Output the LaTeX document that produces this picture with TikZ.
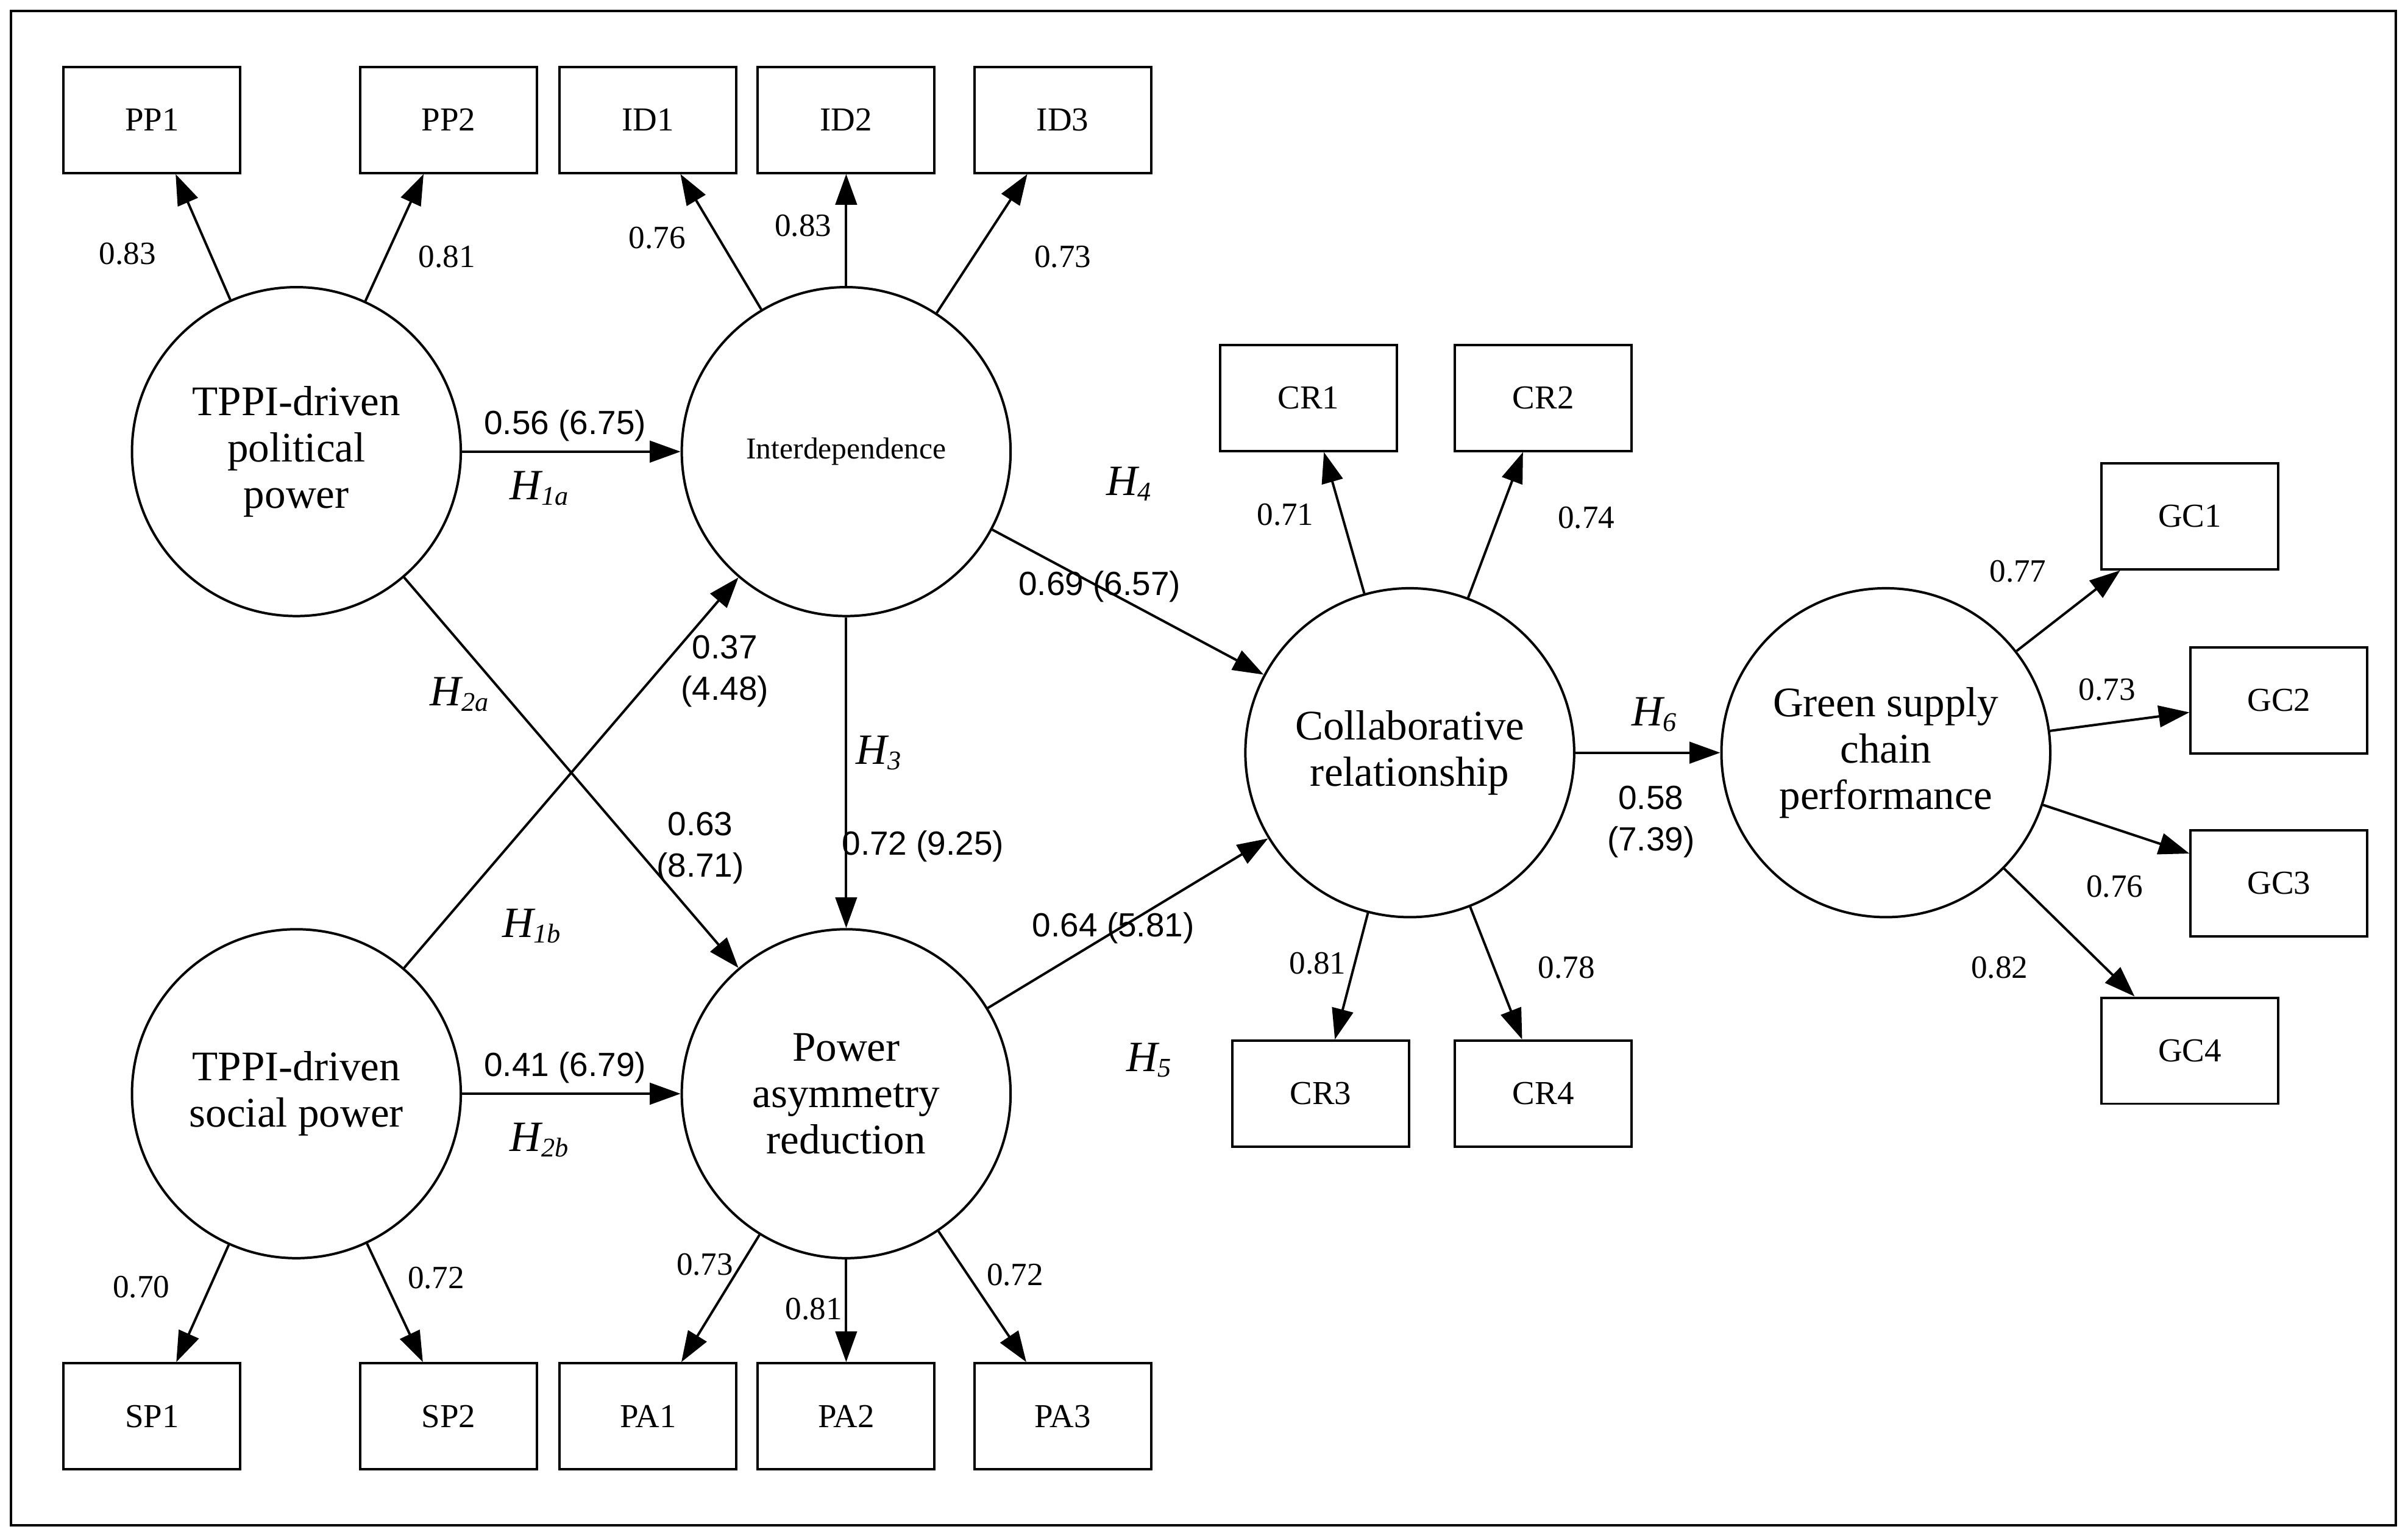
\documentclass[tikz,border=0pt]{standalone}
\usepackage{fontspec}
\setmainfont{Liberation Serif}
\newfontfamily\pathfont{Liberation Sans}
\usetikzlibrary{arrows.meta}
\tikzset{
  lat/.style={draw, circle, minimum size=2.14cm, inner sep=0pt, align=center, font=\fontsize{7.8}{8.6}\selectfont},
  ind/.style={draw, rectangle, minimum width=1.15cm, minimum height=0.69cm, inner sep=0pt, font=\fontsize{6.2}{7}\selectfont},
  arr/.style={-{Triangle[length=2mm, width=1.4mm]}, line width=0.45pt},
  num/.style={font=\fontsize{6}{6.8}\selectfont, align=center},
  coef/.style={font=\pathfont\fontsize{6.2}{7.6}\selectfont, align=center},
  hyp/.style={font=\fontsize{8}{9}\selectfont\itshape}
}
\newcommand{\hsub}[2]{#1\textsubscript{\fontsize{5}{5}\selectfont#2}}
\begin{document}
\begin{tikzpicture}[x=0.01cm, y=-0.01cm, line width=0.45pt]
  \useasboundingbox (0,0) rectangle (1568,997);
  \draw (7,7) rectangle (1560,993);
  % latent constructs
  \node[lat] (pol) at (193,294) {TPPI-driven\\political\\power};
  \node[lat, font=\fontsize{5.6}{6.4}\selectfont] (inter) at (551,294) {Interdependence};
  \node[lat] (soc) at (193,712) {TPPI-driven\\social power};
  \node[lat] (asym) at (551,712) {Power\\asymmetry\\reduction};
  \node[lat] (collab) at (918,490) {Collaborative\\relationship};
  \node[lat] (green) at (1228,490) {Green supply\\chain\\performance};
  % indicators
  \node[ind] (pp1) at (99,78) {PP1};
  \node[ind] (pp2) at (292,78) {PP2};
  \node[ind] (id1) at (422,78) {ID1};
  \node[ind] (id2) at (551,78) {ID2};
  \node[ind] (id3) at (692,78) {ID3};
  \node[ind] (cr1) at (852,259) {CR1};
  \node[ind] (cr2) at (1005,259) {CR2};
  \node[ind] (cr3) at (860,712) {CR3};
  \node[ind] (cr4) at (1005,712) {CR4};
  \node[ind] (gc1) at (1426,336) {GC1};
  \node[ind] (gc2) at (1484,456) {GC2};
  \node[ind] (gc3) at (1484,575) {GC3};
  \node[ind] (gc4) at (1426,684) {GC4};
  \node[ind] (sp1) at (99,922) {SP1};
  \node[ind] (sp2) at (292,922) {SP2};
  \node[ind] (pa1) at (422,922) {PA1};
  \node[ind] (pa2) at (551,922) {PA2};
  \node[ind] (pa3) at (692,922) {PA3};
  % loadings
  \draw[arr] (pol) -- (pp1);
  \draw[arr] (pol) -- (pp2);
  \draw[arr] (inter) -- (id1);
  \draw[arr] (inter) -- (id2);
  \draw[arr] (inter) -- (id3);
  \draw[arr] (collab) -- (cr1);
  \draw[arr] (collab) -- (cr2);
  \draw[arr] (collab) -- (cr3);
  \draw[arr] (collab) -- (cr4);
  \draw[arr] (green) -- (gc1);
  \draw[arr] (green) -- (gc2);
  \draw[arr] (green) -- (gc3);
  \draw[arr] (green) -- (gc4);
  \draw[arr] (soc) -- (sp1);
  \draw[arr] (soc) -- (sp2);
  \draw[arr] (asym) -- (pa1);
  \draw[arr] (asym) -- (pa2);
  \draw[arr] (asym) -- (pa3);
  \node[num] (l1) at (83,165) {0.83};
  \node[num] (l2) at (291,167) {0.81};
  \node[num] (l3) at (428,155) {0.76};
  \node[num] (l4) at (523,147) {0.83};
  \node[num] (l5) at (692,167) {0.73};
  \node[num] (l6) at (837,335) {0.71};
  \node[num] (l7) at (1033,337) {0.74};
  \node[num] (l8) at (1314,372) {0.77};
  \node[num] (l9) at (1372,449) {0.73};
  \node[num] (l10) at (1377,577) {0.76};
  \node[num] (l11) at (1302,630) {0.82};
  \node[num] (l12) at (858,627) {0.81};
  \node[num] (l13) at (1020,630) {0.78};
  \node[num] (l14) at (92,838) {0.70};
  \node[num] (l15) at (284,832) {0.72};
  \node[num] (l16) at (459,823) {0.73};
  \node[num] (l17) at (530,852) {0.81};
  \node[num] (l18) at (661,830) {0.72};
  % structural paths
  \draw[arr] (pol) -- (inter);
  \draw[arr] (pol) -- (asym);
  \draw[arr] (soc) -- (inter);
  \draw[arr] (soc) -- (asym);
  \draw[arr] (inter) -- (asym);
  \draw[arr] (inter) -- (collab);
  \draw[arr] (asym) -- (collab);
  \draw[arr] (collab) -- (green);
  \node[coef] (p1) at (368,277) {0.56 (6.75)};
  \node[hyp] (h1a) at (352,318) {\hsub{H}{1\textit{a}}};
  \node[coef] (p2) at (368,695) {0.41 (6.79)};
  \node[hyp] (h2b) at (352,742) {\hsub{H}{2\textit{b}}};
  \node[coef] (p3) at (472,437) {0.37\\(4.48)};
  \node[hyp] (h2a) at (300,452) {\hsub{H}{2\textit{a}}};
  \node[hyp] (h1b) at (347,603) {\hsub{H}{1\textit{b}}};
  \node[coef] (p4) at (456,552) {0.63\\(8.71)};
  \node[hyp] (h3) at (573,490) {\hsub{H}{3}};
  \node[coef] (p5) at (601,551) {0.72 (9.25)};
  \node[hyp] (h4) at (736,315) {\hsub{H}{4}};
  \node[coef] (p6) at (716,382) {0.69 (6.57)};
  \node[coef] (p7) at (725,604) {0.64 (5.81)};
  \node[hyp] (h5) at (749,690) {\hsub{H}{5}};
  \node[hyp] (h6) at (1078,465) {\hsub{H}{6}};
  \node[coef] (p8) at (1075,535) {0.58\\(7.39)};
\end{tikzpicture}
\end{document}
